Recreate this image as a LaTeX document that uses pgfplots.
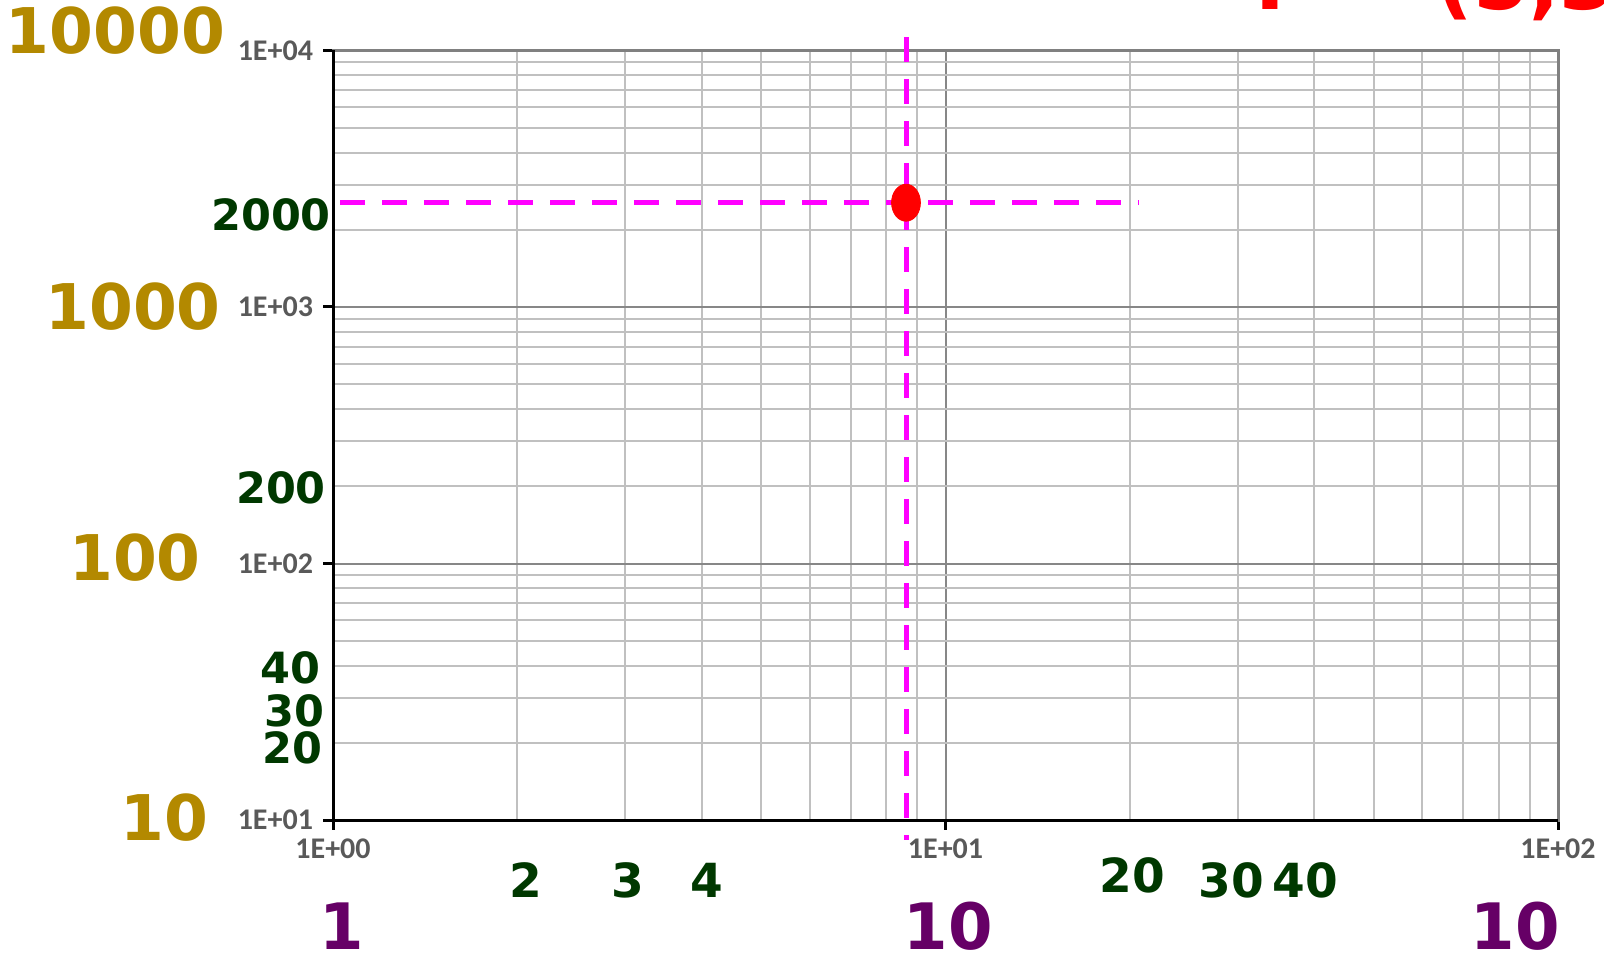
\documentclass[border=0pt]{standalone}
\usepackage{pgfplots}
\pgfplotsset{compat=1.18}
\usepackage{fontspec}
\newfontfamily\djv{DejaVu Sans}
\newfontfamily\carlito{Carlito}
\definecolor{goldc}{RGB}{179,137,0}
\definecolor{greenc}{RGB}{0,56,0}
\definecolor{purplec}{RGB}{102,0,102}
\definecolor{tickgray}{RGB}{89,89,89}
\definecolor{majgrid}{RGB}{135,135,135}
\definecolor{mingrid}{RGB}{192,192,192}
\definecolor{magc}{RGB}{255,0,255}
\definecolor{redc}{RGB}{255,0,0}
\begin{document}
\begin{tikzpicture}
\useasboundingbox (0,0) rectangle (802pt,477pt);
\begin{axis}[
  xmode=log, ymode=log,
  xmin=1, xmax=100, ymin=10, ymax=10000,
  scale only axis, width=612.5pt, height=384.75pt,
  at={(166.5pt,67pt)}, anchor=south west,
  grid=both,
  major grid style={draw=majgrid, line width=1pt},
  minor grid style={draw=mingrid, line width=1pt},
  xtick={1,10,100}, ytick={10,100,1000,10000},
  minor xtick={2,3,4,5,6,7,8,9,20,30,40,50,60,70,80,90},
  minor ytick={20,30,40,50,60,70,80,90,200,300,400,500,600,700,800,900,2000,3000,4000,5000,6000,7000,8000,9000},
  xticklabels={1E+00,1E+01,1E+02},
  yticklabels={1E+01,1E+02,1E+03,1E+04},
  tick label style={font=\carlito\bfseries\fontsize{15}{15}\selectfont, text=tickgray},
  yticklabel style={xshift=-1.5pt},
  xticklabel style={yshift=-1pt},
  tick align=outside, xtick pos=bottom, ytick pos=left,
  major tick length=5pt, minor tick length=0pt,
  major tick style={black, line width=1.5pt},
  axis line style={draw=gray, line width=1.5pt},
  clip=false,
]
\addplot[magc, line width=2.5pt, dash pattern=on 12.5pt off 8.5pt] coordinates {(1.027,2550) (20.7,2550)};
\addplot[magc, line width=2.5pt, dash pattern=on 12.5pt off 8.5pt] coordinates {(8.62,11250) (8.62,8.36)};
\addplot[only marks, mark=*, mark size=9.25pt, mark options={fill=redc, draw=redc, xscale=0.78}] coordinates {(8.62,2550)};
\draw[black, line width=1.5pt] (rel axis cs:0,1) -- (rel axis cs:0,0) -- (rel axis cs:1,0);
\end{axis}
% annotation labels
\begin{scope}[every node/.style={inner sep=0pt, anchor=center}]
\node[font=\djv\bfseries\fontsize{31.5}{31.5}\selectfont, text=goldc] at (57.75pt,461.5pt) {10000};
\node[font=\djv\bfseries\fontsize{31.5}{31.5}\selectfont, text=goldc] at (66.5pt,323.5pt) {1000};
\node[font=\djv\bfseries\fontsize{31.5}{31.5}\selectfont, text=goldc] at (67.5pt,198pt) {100};
\node[font=\djv\bfseries\fontsize{31.5}{31.5}\selectfont, text=goldc] at (82pt,68pt) {10};
\node[font=\djv\bfseries\fontsize{21.5}{21.5}\selectfont, text=greenc] at (135.5pt,369.5pt) {2000};
\node[font=\djv\bfseries\fontsize{21.5}{21.5}\selectfont, text=greenc] at (140.5pt,233pt) {200};
\node[font=\djv\bfseries\fontsize{21.5}{21.5}\selectfont, text=greenc] at (145pt,143pt) {40};
\node[font=\djv\bfseries\fontsize{21.5}{21.5}\selectfont, text=greenc] at (147pt,121.5pt) {30};
\node[font=\djv\bfseries\fontsize{21.5}{21.5}\selectfont, text=greenc] at (146pt,103pt) {20};
\node[font=\djv\bfseries\fontsize{23.5}{23.5}\selectfont, text=greenc] at (263pt,37pt) {2};
\node[font=\djv\bfseries\fontsize{23.5}{23.5}\selectfont, text=greenc] at (314pt,37pt) {3};
\node[font=\djv\bfseries\fontsize{23.5}{23.5}\selectfont, text=greenc] at (353.5pt,37pt) {4};
\node[font=\djv\bfseries\fontsize{23.5}{23.5}\selectfont, text=greenc] at (566pt,39.5pt) {20};
\node[font=\djv\bfseries\fontsize{23.5}{23.5}\selectfont, text=greenc] at (615.5pt,37pt) {30};
\node[font=\djv\bfseries\fontsize{23.5}{23.5}\selectfont, text=greenc] at (652.5pt,37pt) {40};
\node[font=\djv\bfseries\fontsize{32}{32}\selectfont, text=purplec] at (171pt,14pt) {1};
\node[font=\djv\bfseries\fontsize{32}{32}\selectfont, text=purplec] at (474pt,14pt) {10};
\node[font=\djv\bfseries\fontsize{32}{32}\selectfont, text=purplec] at (757.5pt,14pt) {10};
\node[font=\djv\bfseries\fontsize{40}{40}\selectfont, text=redc, anchor=base west] at (627.5pt,472pt) {P = (5,3)};
\end{scope}
\end{tikzpicture}
\end{document}
